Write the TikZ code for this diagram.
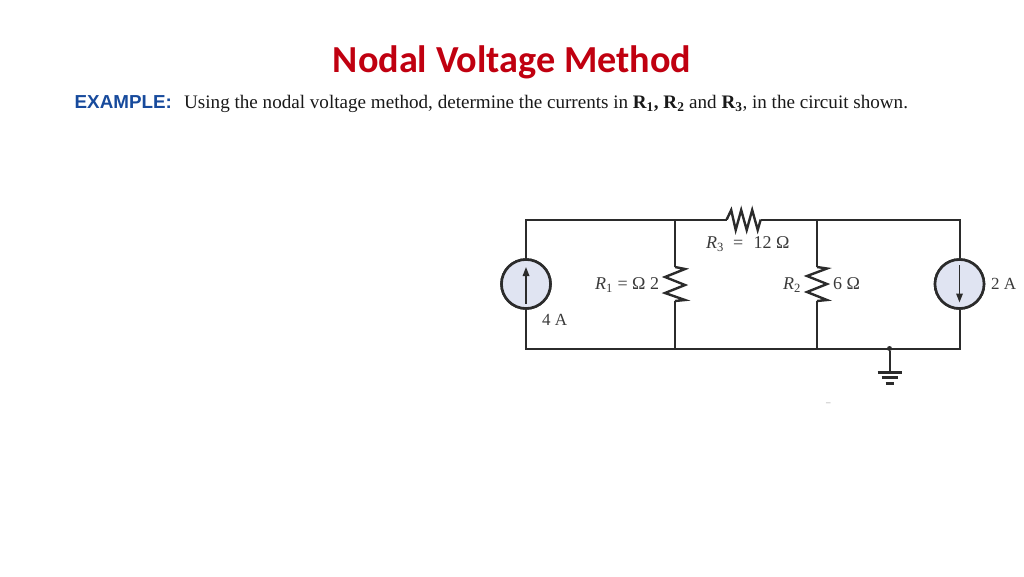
\documentclass[tikz,border=0pt]{standalone}
\usepackage{fontspec}
\setmainfont{Liberation Serif}
\newfontfamily\titlefont{Carlito}
\newfontfamily\labelsans{Liberation Sans}
\usetikzlibrary{arrows.meta}
\definecolor{titlered}{HTML}{C00010}
\definecolor{exblue}{HTML}{174A9C}
\definecolor{wirec}{HTML}{2B2B2B}
\definecolor{srcfill}{HTML}{E0E4F2}
\definecolor{labelc}{HTML}{3A3A3A}
\tikzset{
  wire/.style={draw=wirec,line width=2pt},
  zig/.style={draw=wirec,line width=2.4pt,line join=miter},
  source/.style={circle,draw=wirec,fill=srcfill,line width=2.6pt,minimum size=49pt,inner sep=0pt},
  flow/.style={draw=wirec,line width=1.6pt,-{Triangle[length=9pt,width=6.5pt]}},
  clabel/.style={anchor=base west,inner sep=0pt,text=labelc,font=\fontsize{18}{18}\selectfont},
  junction/.style={circle,fill=wirec,inner sep=0pt,minimum size=5pt},
  gbar/.style={draw=wirec,line width=3pt},
}
\begin{document}
\begin{tikzpicture}[x=1pt,y=-1pt]
\useasboundingbox (0,0) rectangle (1024,576);
% title and text
\node[anchor=base,inner sep=0pt,text=titlered,font=\titlefont\bfseries\fontsize{38.2}{38.2}\selectfont] (title) at (512,72) {Nodal Voltage Method};
\node[anchor=base west,inner sep=0pt,text=exblue,font=\labelsans\bfseries\fontsize{18.8}{18.8}\selectfont] (ex) at (74.5,108) {EXAMPLE:};
\node[anchor=base west,inner sep=0pt,text=black!90,font=\fontsize{19.1}{19.1}\selectfont] (stmt) at (184,108) {Using the nodal voltage method, determine the currents in \textbf{R\textsubscript{1}, R\textsubscript{2}} and \textbf{R\textsubscript{3}}, in the circuit shown.};
% corners and junctions
\coordinate (tl) at (526,219.5);
\coordinate (tr) at (959.5,219.5);
\coordinate (bl) at (526,348.5);
\coordinate (br) at (959.5,348.5);
\coordinate (ja) at (675,219.5);
\coordinate (jb) at (817,219.5);
\coordinate (ka) at (675,348.5);
\coordinate (kb) at (817,348.5);
\coordinate (r3a) at (726.7,219.5);
\coordinate (r3b) at (760.7,219.5);
\coordinate (r1a) at (675,267);
\coordinate (r1b) at (675,301);
\coordinate (r2a) at (817,267);
\coordinate (r2b) at (817,301);
\node[source] (s1) at (526,284) {};
\node[source] (s2) at (959.5,284) {};
\coordinate (a1s) at (526,303.5);
\coordinate (a1e) at (526,267);
\coordinate (a2s) at (959.5,265);
\coordinate (a2e) at (959.5,302.5);
% wires
\draw[wire] (s1) -- (tl) -- (ja) -- (r3a);
\draw[wire] (r3b) -- (jb) -- (tr) -- (s2);
\draw[wire] (s2) -- (br) -- (kb) -- (ka) -- (bl) -- (s1);
\draw[wire] (ja) -- (r1a);
\draw[wire] (r1b) -- (ka);
\draw[wire] (jb) -- (r2a);
\draw[wire] (r2b) -- (kb);
\node[source] at (s1) {};
\node[source] at (s2) {};
\draw[flow] (a1s) -- (a1e);
\draw[flow] (a2s) -- (a2e);
% resistors
\draw[zig] (r3a) -- ++(4.5,-9.5) -- ++(4.5,20) -- ++(5.5,-20) -- ++(5.5,20) -- ++(5.5,-20) -- ++(5.5,20) -- (r3b);
\draw[zig] (r1a) -- ++(10,2) -- ++(-20,8) -- ++(20,8) -- ++(-20,8) -- ++(20,7) -- (r1b);
\draw[zig] (r2a) -- ++(10,1.5) -- ++(-20,7.5) -- ++(20,8) -- ++(-20,8) -- ++(20,8) -- (r2b);
% ground
\node[junction] (gnd) at (889.5,348.5) {};
\coordinate (g1) at (889.5,372);
\coordinate (g1l) at (877.5,372);
\coordinate (g1r) at (901.5,372);
\coordinate (g2l) at (881.5,377.5);
\coordinate (g2r) at (897.5,377.5);
\coordinate (g3l) at (885.5,383);
\coordinate (g3r) at (893.5,383);
\draw[wire] (gnd) -- (g1);
\draw[gbar] (g1l) -- (g1r);
\draw[gbar] (g2l) -- (g2r);
\draw[gbar] (g3l) -- (g3r);
% labels
\node[clabel] (lr3) at (706,248.5) {\textit{R}\textsubscript{3}\hspace{9pt}=\hspace{10.5pt}12 Ω};
\node[clabel,font=\fontsize{17}{17}\selectfont] (l4a) at (542,325) {4 A};
\node[clabel] (lr1) at (595,289.5) {\textit{R}\textsubscript{1} = Ω 2};
\node[clabel] (lr2) at (783,289.5) {\textit{R}\textsubscript{2}};
\node[clabel] (l6) at (833,289.5) {6 Ω};
\node[clabel,font=\fontsize{17}{17}\selectfont] (l2a) at (991,289.5) {2 A};
\node[anchor=base west,inner sep=0pt,text=black!45,font=\fontsize{9}{9}\selectfont] (dash) at (826,405) {–};
\end{tikzpicture}
\end{document}
